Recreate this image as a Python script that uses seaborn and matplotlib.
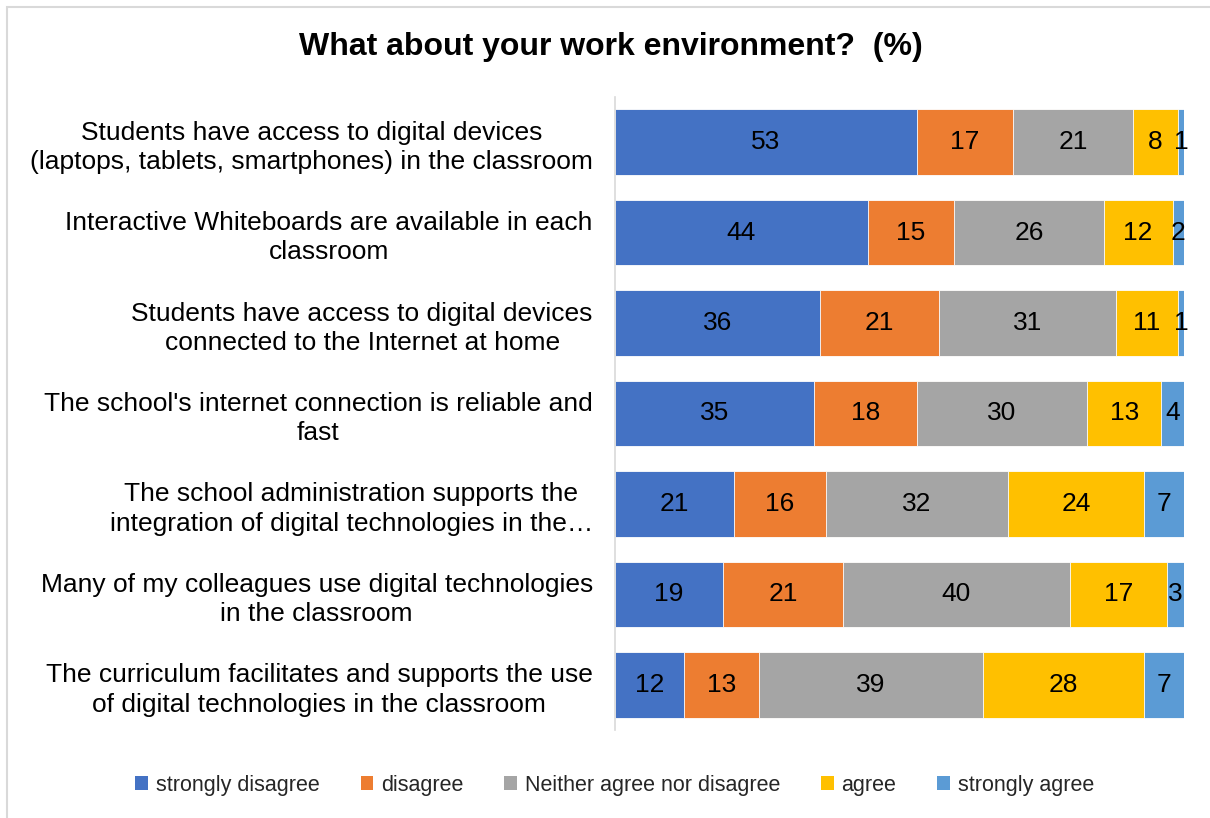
import numpy as np
import pandas as pd
import matplotlib
matplotlib.use("Agg")
import matplotlib.pyplot as plt
from matplotlib.patches import Patch, Rectangle
import seaborn as sns

# Survey statements (top to bottom) and answer shares in percent
statements = [
    "Students have access to digital devices\n(laptops, tablets, smartphones) in the classroom",
    "Interactive Whiteboards are available in each\nclassroom",
    "Students have access to digital devices\nconnected to the Internet at home",
    "The school's internet connection is reliable and\nfast",
    "The school administration supports the\nintegration of digital technologies in the\u2026",
    "Many of my colleagues use digital technologies\nin the classroom",
    "The curriculum facilitates and supports the use\nof digital technologies in the classroom",
]
responses = ["strongly disagree", "disagree", "Neither agree nor disagree",
             "agree", "strongly agree"]
strongly_disagree = [53, 44, 36, 35, 21, 19, 12]
disagree = [17, 15, 21, 18, 16, 21, 13]
neutral = [21, 26, 31, 30, 32, 40, 39]
agree = [8, 12, 11, 13, 24, 17, 28]
strongly_agree = [1, 2, 1, 4, 7, 3, 7]
colors = ["#4472C4", "#ED7D31", "#A5A5A5", "#FFC000", "#5B9BD5"]

sns.set_theme(style="white")
plt.rcParams["font.family"] = ["Liberation Sans", "DejaVu Sans"]

values = np.array([strongly_disagree, disagree, neutral, agree, strongly_agree],
                  dtype=float).T
shares = values / values.sum(axis=1, keepdims=True) * 100  # 100% stacked
cum = np.cumsum(shares, axis=1)

fig = plt.figure(figsize=(12.1, 8.18), dpi=100)
ax = fig.add_axes([615 / 1210, 1 - 730 / 818, (1184 - 615) / 1210, (730 - 97) / 818])

# Draw cumulative bars from the right-most segment backwards
for k in range(len(responses) - 1, -1, -1):
    df = pd.DataFrame({"statement": statements, "end": cum[:, k]})
    sns.barplot(data=df, x="end", y="statement", orient="h", color=colors[k],
                saturation=1, width=0.725, edgecolor="white", linewidth=0.6,
                ax=ax, order=statements)

# Segment value labels
for i in range(len(statements)):
    for k in range(len(responses)):
        start = cum[i, k] - shares[i, k]
        ax.text(start + shares[i, k] / 2, i, f"{int(values[i, k])}",
                ha="center", va="center", fontsize=19, color="black")

ax.set_xlim(0, 100)
ax.set_ylim(6.5, -0.5)
ax.set_xlabel("")
ax.set_ylabel("")
ax.set_xticks([])
ax.tick_params(axis="y", length=0, pad=16, labelsize=19, labelcolor="black")
for lab in ax.get_yticklabels():
    lab.set_multialignment("center")
    lab.set_linespacing(1.28)
for s in ["top", "right", "bottom"]:
    ax.spines[s].set_visible(False)
ax.spines["left"].set_color("#d9d9d9")
ax.spines["left"].set_linewidth(1.2)

fig.text(0.505, 1 - 47 / 818, "What about your work environment?  (%)",
         ha="center", va="center", fontsize=23, fontweight="bold", color="black")

handles = [Patch(facecolor=c, edgecolor="none") for c in colors]
fig.legend(handles, responses, loc="center", bbox_to_anchor=(0.508, 1 - 785 / 818),
           ncol=5, frameon=False, fontsize=15.5, handlelength=0.6, handleheight=0.6,
           handletextpad=0.35, columnspacing=1.9)

# Chart frame
fig.patches.append(Rectangle((7 / 1210, -0.05), 1.1, 1.05 - 7 / 818,
                             transform=fig.transFigure, fill=False,
                             edgecolor="#d9d9d9", linewidth=1.5))

fig.savefig("out.png", dpi=100, facecolor="white")
